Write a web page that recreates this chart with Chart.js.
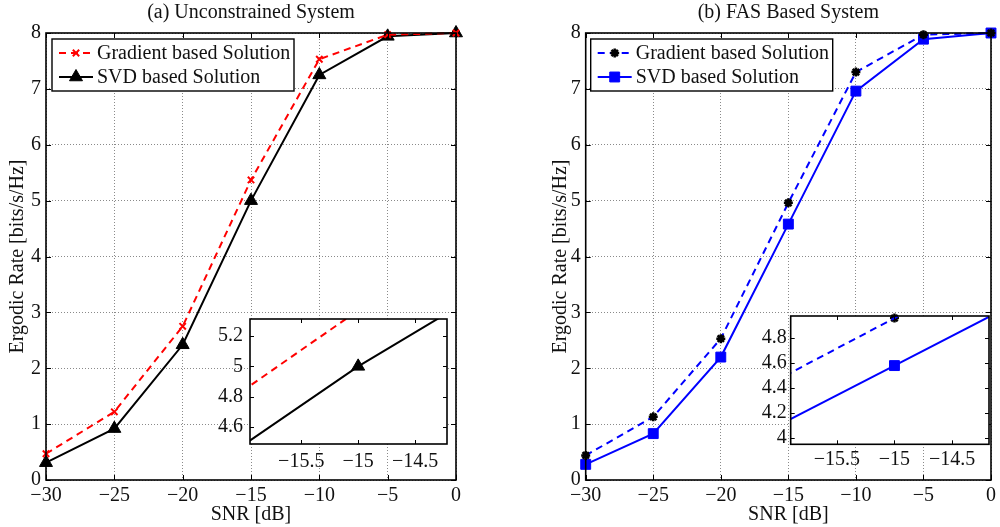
<!DOCTYPE html>
<html>
<head>
<meta charset="utf-8">
<script src="https://cdn.jsdelivr.net/npm/chart.js@4.4.1/dist/chart.umd.min.js"></script>
<style>
  html, body { margin: 0; padding: 0; background: #fff; }
  #wrap { position: relative; width: 1000px; height: 527px; overflow: hidden; }
  canvas { position: absolute; }
</style>
</head>
<body>
<div id="wrap">
  <canvas id="mainA" width="500" height="527" style="left:0;top:0"></canvas>
  <canvas id="mainB" width="500" height="527" style="left:500px;top:0"></canvas>
  <canvas id="insetA" width="252" height="185" style="left:200px;top:300px"></canvas>
  <canvas id="insetB" width="254" height="185" style="left:740px;top:300px"></canvas>
</div>
<script>
// data
const snr = [-30, -25, -20, -15, -10, -5, 0];
const gradA = [0.47, 1.22, 2.75, 5.37, 7.53, 7.97, 8.0];
const svdA = [0.31, 0.92, 2.42, 5.0, 7.25, 7.94, 8.0];
const gradB = [0.44, 1.13, 2.53, 4.96, 7.30, 7.97, 8.0];
const svdB = [0.28, 0.83, 2.2, 4.58, 6.96, 7.89, 8.0];

const xTicks = [-30, -25, -20, -15, -10, -5, 0];
const yTicks = [0, 1, 2, 3, 4, 5, 6, 7, 8];
const insetXTicks = [-15.5, -15, -14.5];
const insetATicks = [4.6, 4.8, 5, 5.2];
const insetBTicks = [4, 4.2, 4.4, 4.6, 4.8];

const labels = ['Gradient based Solution', 'SVD based Solution'];

const FONT = "'Liberation Serif', 'Times New Roman', serif";
const FS = 20;
Chart.defaults.font.family = FONT;
Chart.defaults.font.size = FS;
Chart.defaults.color = '#111';

const toPts = ys => snr.map((x, i) => ({ x, y: ys[i] }));
const fmt = v => String(v).replace('-', '\u2212');
const fixTicks = list => scale => { scale.ticks = list.map(v => ({ value: v })); };

// white plot area (the insets sit on top of the main lines)
const plotBg = {
  id: 'plotBg',
  beforeDraw(chart) {
    const a = chart.chartArea, ctx = chart.ctx;
    ctx.save();
    ctx.fillStyle = '#fff';
    ctx.fillRect(a.left, a.top, a.right - a.left, a.bottom - a.top);
    ctx.restore();
  }
};

// closed box with inward ticks on every side
const boxTicks = {
  id: 'boxTicks',
  afterDatasetsDraw(chart, args, o) {
    const a = chart.chartArea, ctx = chart.ctx, len = o.len || 5;
    const xs = chart.scales.x, ys = chart.scales.y;
    ctx.save();
    ctx.strokeStyle = '#000';
    ctx.lineWidth = 1;
    ctx.beginPath();
    xs.ticks.forEach(t => {
      const px = Math.round(xs.getPixelForValue(t.value)) + 0.5;
      ctx.moveTo(px, a.bottom); ctx.lineTo(px, a.bottom - len);
      ctx.moveTo(px, a.top); ctx.lineTo(px, a.top + len);
    });
    ys.ticks.forEach(t => {
      const py = Math.round(ys.getPixelForValue(t.value)) + 0.5;
      ctx.moveTo(a.left, py); ctx.lineTo(a.left + len, py);
      ctx.moveTo(a.right, py); ctx.lineTo(a.right - len, py);
    });
    ctx.stroke();
    ctx.lineWidth = 1.6;
    ctx.strokeRect(a.left, a.top, a.right - a.left, a.bottom - a.top);
    ctx.restore();
  }
};

// legend box inside the plot, line sample + marker + text
const boxLegend = {
  id: 'boxLegend',
  afterDraw(chart, args, o) {
    if (!o.display) return;
    const a = chart.chartArea, ctx = chart.ctx;
    const sets = chart.data.datasets.filter(d => d.label);
    const x0 = a.left + o.dx, y0 = a.top + o.dy;
    const h = o.rowH * sets.length + o.padY * 2;
    ctx.save();
    ctx.fillStyle = '#fff';
    ctx.fillRect(x0, y0, o.width, h);
    ctx.strokeStyle = '#000';
    ctx.lineWidth = 1.4;
    ctx.strokeRect(x0, y0, o.width, h);
    sets.forEach((d, i) => {
      const cy = y0 + o.padY + o.rowH * (i + 0.5);
      ctx.strokeStyle = d.borderColor;
      ctx.lineWidth = d.borderWidth;
      ctx.setLineDash(d.borderDash || []);
      ctx.beginPath();
      ctx.moveTo(x0 + o.lineX0, cy);
      ctx.lineTo(x0 + o.lineX1, cy);
      ctx.stroke();
      ctx.setLineDash([]);
      ctx.fillStyle = d.pointBackgroundColor;
      ctx.strokeStyle = d.pointBorderColor;
      ctx.lineWidth = d.pointBorderWidth;
      Chart.helpers.drawPoint(ctx, {
        pointStyle: d.pointStyle, radius: d.pointRadius,
        borderWidth: d.pointBorderWidth, rotation: 0
      }, x0 + o.markX, cy);
      ctx.fillStyle = '#111';
      ctx.font = FS + 'px ' + FONT;
      ctx.textBaseline = 'middle';
      ctx.textAlign = 'left';
      ctx.fillText(d.label, x0 + o.textX, cy + 1);
    });
    ctx.restore();
  }
};

const gridOpts = { color: '#8a8a8a', lineWidth: 1, drawTicks: false };

function mainChart(id, title, sets, pad, yWidth, legendDx) {
  return new Chart(document.getElementById(id), {
    type: 'line',
    data: { datasets: sets },
    options: {
      responsive: false,
      animation: false,
      events: [],
      layout: { padding: { left: pad.left, right: pad.right, top: 0, bottom: 0 } },
      plugins: {
        legend: { display: false },
        tooltip: { enabled: false },
        title: {
          display: true, text: title, fullSize: false, color: '#111',
          font: { size: FS, weight: 'normal' }, padding: { top: 1, bottom: 8 }
        },
        boxTicks: { len: 5 },
        boxLegend: {
          display: true, dx: legendDx, dy: 6, width: 242, rowH: 24, padY: 2,
          lineX0: 7, lineX1: 41, markX: 24, textX: 45
        }
      },
      scales: {
        x: {
          type: 'linear', min: -30, max: 0,
          afterBuildTicks: fixTicks(xTicks),
          afterFit: s => { s.height = 47; },
          ticks: { callback: fmt, padding: 4, maxRotation: 0, autoSkip: false },
          grid: gridOpts,
          border: { display: false, dash: [1, 2] },
          title: { display: true, text: 'SNR [dB]', padding: 0 }
        },
        y: {
          min: 0, max: 8,
          afterBuildTicks: fixTicks(yTicks),
          afterFit: s => { s.width = yWidth; },
          ticks: { callback: fmt, padding: 5 },
          grid: gridOpts,
          border: { display: false, dash: [1, 2] },
          title: { display: true, text: 'Ergodic Rate [bits/s/Hz]', padding: { top: 6 } }
        }
      }
    },
    plugins: [boxTicks, boxLegend]
  });
}

function insetChart(id, sets, xr, yr, yList, area) {
  return new Chart(document.getElementById(id), {
    type: 'line',
    data: { datasets: sets },
    options: {
      responsive: false,
      animation: false,
      events: [],
      layout: { padding: { left: 0, right: area.right, top: area.top, bottom: 0 } },
      plugins: { legend: { display: false }, tooltip: { enabled: false }, boxTicks: { len: 4 } },
      scales: {
        x: {
          type: 'linear', min: xr[0], max: xr[1],
          afterBuildTicks: fixTicks(insetXTicks),
          afterFit: s => { s.height = area.xh; },
          ticks: { callback: fmt, padding: area.xpad, maxRotation: 0, autoSkip: false },
          grid: { display: false, drawTicks: false },
          border: { display: false }
        },
        y: {
          min: yr[0], max: yr[1],
          afterBuildTicks: fixTicks(yList),
          afterFit: s => { s.width = area.yw; },
          ticks: { callback: fmt, padding: area.ypad },
          grid: { display: false, drawTicks: false },
          border: { display: false }
        }
      }
    },
    plugins: [plotBg, boxTicks]
  });
}

// series styles
const redDash = { borderColor: '#ff0000', borderWidth: 2, borderDash: [7, 5] };
const blackSolid = { borderColor: '#000000', borderWidth: 2 };
const blueDash = { borderColor: '#0000ff', borderWidth: 2, borderDash: [7, 5] };
const blueSolid = { borderColor: '#0000ff', borderWidth: 2 };

const crossMark = { pointStyle: 'crossRot', pointRadius: 4.5, pointBorderWidth: 2, pointBorderColor: '#ff0000', pointBackgroundColor: '#ff0000' };
const triMark = { pointStyle: 'triangle', pointRadius: 7.5, pointBorderWidth: 1, pointBorderColor: '#000', pointBackgroundColor: '#000' };
const starMark = { pointStyle: 'star', pointRadius: 4.5, pointBorderWidth: 2.5, pointBorderColor: '#000', pointBackgroundColor: '#000' };
const squareMark = { pointStyle: 'rect', pointRadius: 7, pointBorderWidth: 1, pointBorderColor: '#0000ff', pointBackgroundColor: '#0000ff' };

mainChart('mainA', '(a) Unconstrained System', [
  { label: labels[0], data: toPts(gradA), clip: false, ...redDash, ...crossMark },
  { label: labels[1], data: toPts(svdA), clip: false, ...blackSolid, ...triMark }
], { left: 0, right: 44 }, 46, 6);

mainChart('mainB', '(b) FAS Based System', [
  { label: labels[0], data: toPts(gradB), clip: false, ...blueDash, ...starMark },
  { label: labels[1], data: toPts(svdB), clip: false, ...blueSolid, ...squareMark }
], { left: 43, right: 5 }, 42.7, 5);

// inset: lines are clipped to the box, markers drawn only if their centre is inside
const inBox = yr => ctx => (ctx.raw && ctx.raw.y >= yr[0] && ctx.raw.y <= yr[1]) ? ctx.dataset.markR : 0;

const insetARange = [4.487, 5.313];
const insetBRange = [3.95, 4.977];

insetChart('insetA', [
  { data: toPts(gradA), pointRadius: 0, ...redDash },
  { data: toPts(svdA), pointRadius: 0, ...blackSolid },
  { data: toPts(gradA), showLine: false, clip: false, ...crossMark, markR: 4.5, pointRadius: inBox(insetARange) },
  { data: toPts(svdA), showLine: false, clip: false, ...triMark, markR: 7.5, pointRadius: inBox(insetARange) }
], [-15.95, -14.22], insetARange, insetATicks, { right: 5, top: 8, xh: 41, xpad: 5.5, yw: 50, ypad: 7 });

insetChart('insetB', [
  { data: toPts(gradB), pointRadius: 0, ...blueDash },
  { data: toPts(svdB), pointRadius: 0, ...blueSolid },
  { data: toPts(gradB), showLine: false, clip: false, ...starMark, markR: 4.5, pointRadius: inBox(insetBRange) },
  { data: toPts(svdB), showLine: false, clip: false, ...squareMark, markR: 7, pointRadius: inBox(insetBRange) }
], [-15.9, -14.18], insetBRange, insetBTicks, { right: 5, top: 8.3, xh: 40.7, xpad: 3.5, yw: 50.7, ypad: 4 });
</script>
</body>
</html>
